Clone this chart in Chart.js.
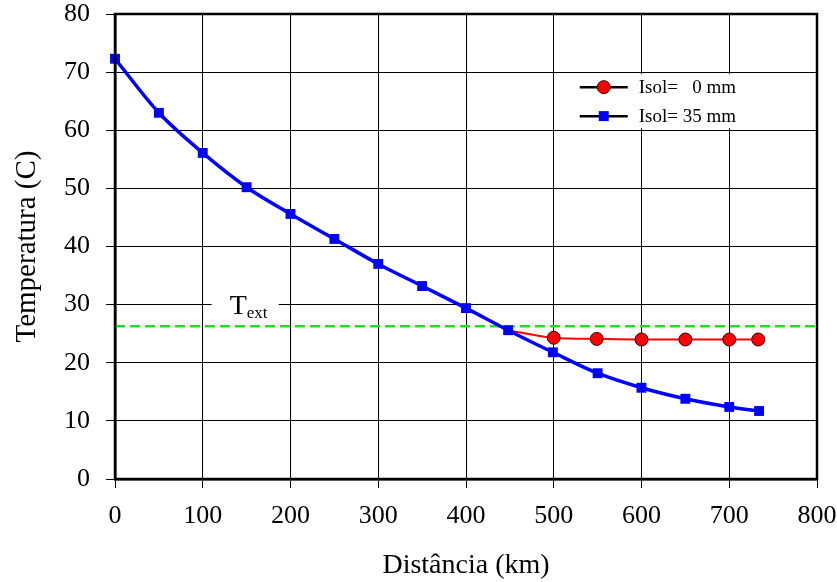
<!DOCTYPE html>
<html>
<head>
<meta charset="utf-8">
<script src="https://cdn.jsdelivr.net/npm/chart.js@4.4.1/dist/chart.umd.min.js"></script>
<style>
  html, body { margin: 0; padding: 0; background: #fff; }
  #wrap { width: 837px; height: 582px; }
</style>
</head>
<body>
<div id="wrap"><canvas id="graficoTemp"></canvas></div>
<script>
//---------------
// Datos
//---------------
const distIsol35 = [0, 50, 100, 150, 200, 250, 300, 350, 400, 448, 499, 550, 600, 650, 700, 734];
const tempIsol35 = [72.3, 63.0, 56.1, 50.2, 45.6, 41.3, 37.0, 33.2, 29.4, 25.6, 21.8, 18.2, 15.7, 13.8, 12.4, 11.7];

const distIsol0 = [448, 500, 549, 600, 650, 700, 733];
const tempIsol0 = [25.6, 24.3, 24.1, 24.0, 24.0, 24.0, 24.0];

const tExt = 26.3;
const tExtLabel = 'T';
const tExtSub = 'ext';

const xTicks = [0, 100, 200, 300, 400, 500, 600, 700, 800];
const yTicks = [0, 10, 20, 30, 40, 50, 60, 70, 80];

const serif = "'Liberation Serif', 'Times New Roman', serif";

const toPoints = (xs, ys) => xs.map((x, i) => ({ x: x, y: ys[i] }));

//---------------
// Marco completo del área del gráfico
//---------------
const marco = {
  id: 'marco',
  afterDatasetsDraw(chart) {
    const { ctx, chartArea: a } = chart;
    ctx.save();
    ctx.strokeStyle = '#000';
    ctx.lineWidth = 2.5;
    ctx.strokeRect(a.left, a.top, a.right - a.left, a.bottom - a.top);
    ctx.restore();
  }
};

//---------------
// Etiqueta T_ext sobre la línea verde
//---------------
const etiquetaText = {
  id: 'etiquetaText',
  beforeDatasetsDraw(chart) {
    const { ctx } = chart;
    const x = chart.scales.x.getPixelForValue(150);
    const y = chart.scales.y.getPixelForValue(tExt);
    ctx.save();
    ctx.fillStyle = '#fff';
    ctx.fillRect(x - 35, y - 34, 67, 28);
    ctx.fillStyle = '#000';
    ctx.textBaseline = 'alphabetic';
    ctx.font = '28px ' + serif;
    ctx.fillText(tExtLabel, x - 17, y - 12);
    ctx.font = '17px ' + serif;
    ctx.fillText(tExtSub, x, y - 8);
    ctx.restore();
  }
};

//---------------
// Leyenda dentro del área
//---------------
const leyenda = {
  id: 'leyenda',
  afterDraw(chart) {
    const { ctx } = chart;
    const x0 = chart.scales.x.getPixelForValue(500) + 2;
    const y0 = chart.scales.y.getPixelForValue(70) + 2;
    ctx.save();
    ctx.fillStyle = '#fff';
    ctx.fillRect(x0, y0, 250, 54);
    const items = chart.data.datasets.filter(d => d.enLeyenda).sort((a, b) => b.order - a.order);
    items.forEach((ds, i) => {
      const cy = y0 + 13 + i * 29;
      ctx.strokeStyle = '#000';
      ctx.lineWidth = 2.5;
      ctx.beginPath();
      ctx.moveTo(x0 + 24, cy);
      ctx.lineTo(x0 + 72, cy);
      ctx.stroke();
      ctx.fillStyle = ds.pointBackgroundColor;
      ctx.strokeStyle = ds.pointBorderColor;
      ctx.lineWidth = ds.pointBorderWidth;
      ctx.beginPath();
      if (ds.pointStyle === 'rect') {
        ctx.rect(x0 + 48 - 5, cy - 5, 10, 10);
      } else {
        ctx.arc(x0 + 48, cy, 6.5, 0, Math.PI * 2);
      }
      ctx.fill();
      if (ds.pointBorderWidth) ctx.stroke();
      ctx.fillStyle = '#000';
      ctx.font = '19px ' + serif;
      ctx.textBaseline = 'middle';
      ctx.fillText(ds.label, x0 + 83, cy + 1);
    });
    ctx.restore();
  }
};

//---------------
// Gráfico
//---------------
const grafico = new Chart(document.getElementById('graficoTemp'), {
  type: 'line',
  data: {
    datasets: [
      {
        label: 'T_ext',
        data: toPoints([0, 800], [tExt, tExt]),
        borderColor: '#1ee01e',
        borderWidth: 2.5,
        borderDash: [10, 5],
        pointRadius: 0,
        order: 3
      },
      {
        label: 'Isol=   0 mm',
        enLeyenda: true,
        data: toPoints(distIsol0, tempIsol0),
        borderColor: '#ff0000',
        borderWidth: 2,
        pointStyle: 'circle',
        pointRadius: distIsol0.map((d, i) => i === 0 ? 0 : 6.5),
        pointBackgroundColor: '#ff0000',
        pointBorderColor: '#3a0000',
        pointBorderWidth: 1,
        cubicInterpolationMode: 'monotone',
        clip: false,
        order: 2
      },
      {
        label: 'Isol= 35 mm',
        enLeyenda: true,
        data: toPoints(distIsol35, tempIsol35),
        borderColor: '#0000ff',
        borderWidth: 3.5,
        pointStyle: 'rect',
        pointRadius: 7,
        pointBackgroundColor: '#0000ff',
        pointBorderColor: '#0000ff',
        pointBorderWidth: 0,
        cubicInterpolationMode: 'monotone',
        clip: false,
        order: 1
      }
    ]
  },
  plugins: [etiquetaText, marco, leyenda],
  options: {
    responsive: true,
    maintainAspectRatio: false,
    animation: false,
    layout: { padding: { left: 0, top: 14, right: 20, bottom: 0 } },
    plugins: {
      legend: { display: false },
      tooltip: { enabled: false }
    },
    scales: {
      x: {
        type: 'linear',
        min: 0,
        max: 800,
        afterFit: s => { s.height = 103; s.paddingLeft = 0; s.paddingRight = 0; },
        afterBuildTicks: s => { s.ticks = xTicks.map(v => ({ value: v })); },
        grid: { color: '#000', lineWidth: 1, tickLength: 9 },
        border: { color: '#000', width: 2.5 },
        ticks: { color: '#000', padding: 13, maxRotation: 0, font: { family: serif, size: 26 } },
        title: {
          display: true,
          text: 'Distância (km)',
          color: '#000',
          padding: 0,
          font: { family: serif, size: 28 }
        }
      },
      y: {
        min: 0,
        max: 80,
        afterFit: s => { s.width = 115; s.paddingTop = 0; s.paddingBottom = 0; },
        afterBuildTicks: s => { s.ticks = yTicks.map(v => ({ value: v })); },
        grid: { color: '#000', lineWidth: 1, tickLength: 9 },
        border: { color: '#000', width: 2.5 },
        ticks: { color: '#000', padding: 16, font: { family: serif, size: 26 } },
        title: {
          display: true,
          text: 'Temperatura (C)',
          color: '#000',
          padding: { top: 10, bottom: 0 },
          font: { family: serif, size: 29 }
        }
      }
    }
  }
});
</script>
</body>
</html>
